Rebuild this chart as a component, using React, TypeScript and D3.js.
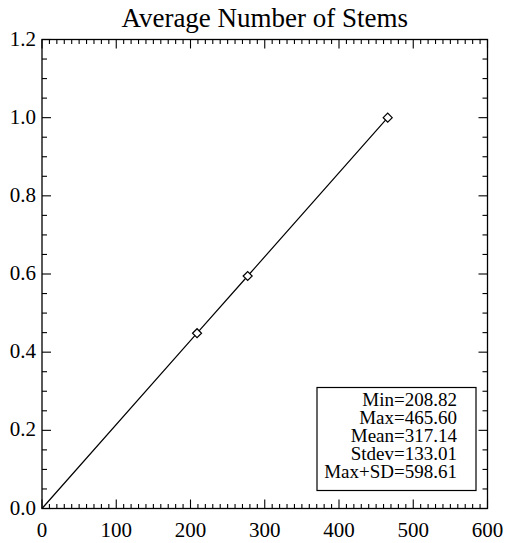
import React, { useEffect, useRef } from "react";
import * as d3 from "d3";

const xValues = [0, 208.82, 277.0, 465.6];
const yValues = [0, 0.4485, 0.5949, 1.0];
const markerIdx = [1, 2, 3];
const xTicks = [0, 100, 200, 300, 400, 500, 600];
const yTicks = [0.0, 0.2, 0.4, 0.6, 0.8, 1.0, 1.2];
const statLines = ["Min=208.82", "Max=465.60", "Mean=317.14", "Stdev=133.01", "Max+SD=598.61"];
const title = "Average Number of Stems";

const W = 508, H = 543;
const L = 42, R = 487.5, T = 39.5, B = 508.5;

export default function App() {
  const ref = useRef<SVGSVGElement>(null);

  useEffect(() => {
    const svg = d3.select(ref.current);
    svg.selectAll("*").remove();
    const x = d3.scaleLinear().domain([0, 600]).range([L, R]);
    const y = d3.scaleLinear().domain([0, 1.2]).range([B, T]);
    const majX = 9, minX = 4.5, majY = 9, minY = 5;
    const isMajX = (v: number) => Math.abs(v % 100) < 1e-6;
    const isMajY = (v: number) => Math.abs(Math.round(v / 0.2) * 0.2 - v) < 1e-6;

    svg.append("rect").attr("width", W).attr("height", H).attr("fill", "#fff");

    const txt = (xx: number, yy: number, size: number, anchor: string, s: string) =>
      svg.append("text").attr("x", xx).attr("y", yy).attr("font-size", size)
        .attr("text-anchor", anchor).attr("fill", "#000")
        .style("font-family", '"Liberation Serif"', "important").text(s);

    txt((L + R) / 2, 27, 27, "middle", title);

    svg.append("rect").attr("x", L).attr("y", T).attr("width", R - L).attr("height", B - T)
      .attr("fill", "none").attr("stroke", "#000").attr("stroke-width", 1.3);

    d3.range(0, 601, 10).forEach((v) => {
      const len = isMajX(v) ? majX : minX;
      svg.append("line").attr("x1", x(v)).attr("x2", x(v)).attr("y1", B).attr("y2", B - len).attr("stroke", "#000").attr("stroke-width", 1.1);
      svg.append("line").attr("x1", x(v)).attr("x2", x(v)).attr("y1", T).attr("y2", T + len).attr("stroke", "#000").attr("stroke-width", 1.1);
    });
    d3.range(0, 1.2001, 0.05).forEach((v) => {
      const len = isMajY(v) ? majY : minY;
      svg.append("line").attr("x1", L).attr("x2", L + len).attr("y1", y(v)).attr("y2", y(v)).attr("stroke", "#000").attr("stroke-width", 1.1);
      svg.append("line").attr("x1", R).attr("x2", R - len).attr("y1", y(v)).attr("y2", y(v)).attr("stroke", "#000").attr("stroke-width", 1.1);
    });

    xTicks.forEach((v) => txt(x(v), 537, 21, "middle", String(v)));
    yTicks.forEach((v) => txt(36, y(v) + 6, 21, "end", v.toFixed(1)));

    const line = d3.line<number>().x((d, i) => x(xValues[i])).y((d, i) => y(yValues[i]));
    svg.append("path").attr("d", line(yValues) || "").attr("fill", "none").attr("stroke", "#000").attr("stroke-width", 1.2);

    markerIdx.forEach((i) => {
      const px = x(xValues[i]), py = y(yValues[i]);
      const s = 4.5;
      svg.append("path").attr("d", `M${px - s},${py}L${px},${py - s}L${px + s},${py}L${px},${py + s}Z`)
        .attr("fill", "#fff").attr("stroke", "#000").attr("stroke-width", 1.2);
    });

    svg.append("rect").attr("x", 317).attr("y", 387.5).attr("width", 159).attr("height", 103)
      .attr("fill", "#fff").attr("stroke", "#000").attr("stroke-width", 1.2);
    statLines.forEach((s, i) => txt(457, 406 + i * 18, 19, "end", s));
  }, []);

  return <svg ref={ref} width={W} height={H} style={{ position: "absolute", left: 0, top: 0 }} />;
}
